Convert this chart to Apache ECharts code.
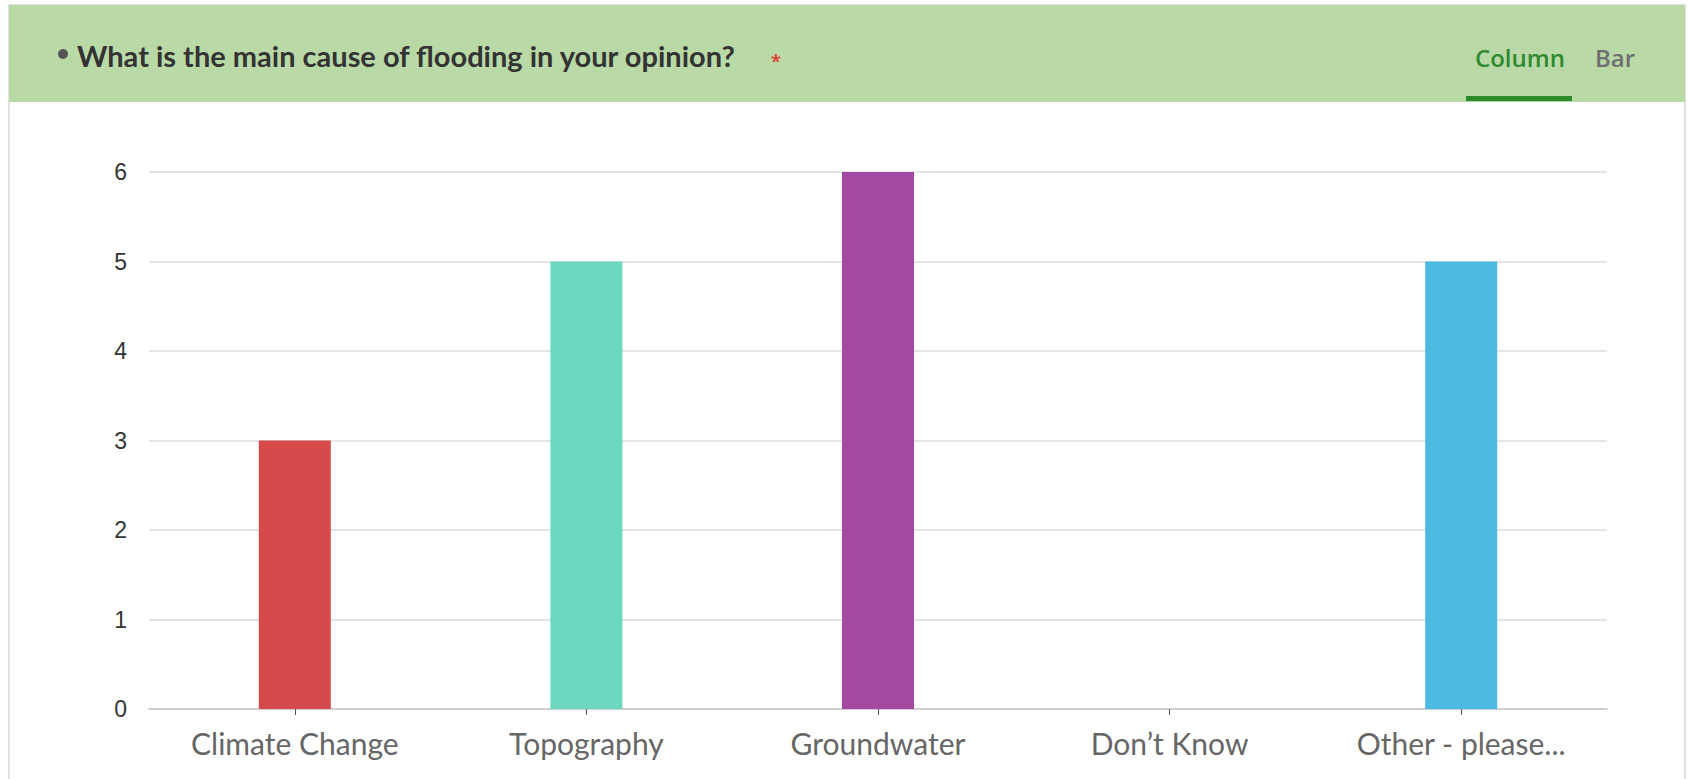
<!DOCTYPE html>
<html>
<head>
<meta charset="utf-8">
<script src="https://cdn.jsdelivr.net/npm/echarts@6/dist/echarts.min.js"></script>
<style>
html,body{margin:0;padding:0;background:#fff;}
#chart{width:1692px;height:779px;}
</style>
</head>
<body>
<div id="chart"></div>
<script>
const categories = ['Climate Change', 'Topography', 'Groundwater', 'Don\u2019t Know', 'Other - please...'];
const values = [3, 5, 6, 0, 5];
const barColors = ['#d64a4c', '#6dd8c0', '#a349a3', '#e0e0e0', '#4bb9e0'];
const yTicks = [0, 1, 2, 3, 4, 5, 6];
const titleText = 'What is the main cause of flooding in your opinion?';

const chart = echarts.init(document.getElementById('chart'), null, {renderer: 'svg'});
chart.setOption({
  animation: false,
  backgroundColor: '#ffffff',
  graphic: [
    {type: 'rect', shape: {x: 9, y: 5, width: 1676, height: 790}, style: {fill: '#ffffff', stroke: '#d9d9d9', lineWidth: 1.5}, z: 0},
    {type: 'rect', shape: {x: 9, y: 5, width: 1676, height: 97}, style: {fill: '#b9d9a6'}, z: 1},
    {type: 'circle', shape: {cx: 63, cy: 54, r: 5}, style: {fill: '#555555'}, z: 2},
    {type: 'text', x: 77, y: 55, style: {text: titleText, fill: '#333333', font: 'bold 29px Lato, sans-serif', verticalAlign: 'middle', align: 'left'}, z: 2},
    {type: 'text', x: 776, y: 61, style: {text: '*', fill: '#e0463a', font: 'bold 18px "Open Sans"', verticalAlign: 'middle', align: 'center'}, z: 2},
    {type: 'text', x: 1475, y: 57, style: {text: 'Column', fill: '#2f8a2f', font: '600 24px "Open Sans"', verticalAlign: 'middle', align: 'left'}, z: 2},
    {type: 'text', x: 1595, y: 57, style: {text: 'Bar', fill: '#6f6f6f', font: '600 24px "Open Sans"', verticalAlign: 'middle', align: 'left'}, z: 2},
    {type: 'rect', shape: {x: 1466, y: 96, width: 106, height: 5}, style: {fill: '#2c8a2c'}, z: 2}
  ],
  grid: {left: 149, right: 85, top: 172, bottom: 70, containLabel: false},
  xAxis: {
    type: 'category',
    data: categories,
    axisLine: {show: true, lineStyle: {color: '#c8c8c8', width: 1.5}},
    axisTick: {show: true, alignWithLabel: true, length: 6, lineStyle: {color: '#555555'}},
    axisLabel: {color: '#666666', fontSize: 30, fontFamily: 'Lato', margin: 19}
  },
  yAxis: {
    type: 'value',
    min: 0, max: 6, interval: 1,
    axisLine: {show: false},
    axisTick: {show: false},
    axisLabel: {color: '#333333', fontSize: 23, fontFamily: '"Liberation Sans", Arial', margin: 22},
    splitLine: {lineStyle: {color: '#dcdcdc', width: 1.5}}
  },
  series: [{
    type: 'bar',
    data: values.map((v, i) => ({value: v, itemStyle: {color: barColors[i]}})),
    barWidth: 72
  }]
});
</script>
</body>
</html>
